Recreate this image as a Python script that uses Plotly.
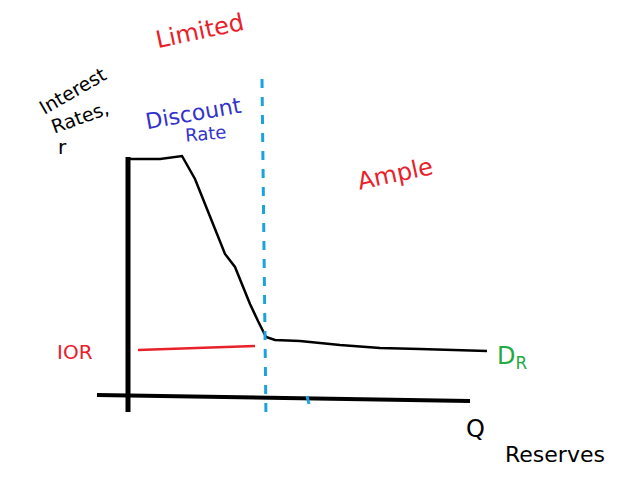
import plotly.graph_objects as go

# Demand curve for reserves (drawing coordinates)
demand_x = [128, 160, 182, 195, 205, 215, 225, 235, 242, 250, 258, 266, 275, 300, 340, 380, 420, 460, 487]
demand_y = [160, 160, 157, 180, 205, 230, 255, 268, 285, 305, 322, 338, 341, 342, 346, 349, 350, 351, 352]
ior_x = [138, 255]
ior_y = [351, 347]
yaxis_x = [128, 128]
yaxis_y = [158, 413]
xaxis_x = [97, 470]
xaxis_y = [396, 402]
divider_x = [262, 266]
divider_y = [80, 420]
tick_x = [307, 309]
tick_y = [397, 405]

fig = go.Figure()
fig.add_trace(go.Scatter(x=yaxis_x, y=yaxis_y, mode="lines", line=dict(color="black", width=5)))
fig.add_trace(go.Scatter(x=xaxis_x, y=xaxis_y, mode="lines", line=dict(color="black", width=4)))
fig.add_trace(go.Scatter(x=demand_x, y=demand_y, mode="lines", line=dict(color="black", width=2.5)))
fig.add_trace(go.Scatter(x=ior_x, y=ior_y, mode="lines", line=dict(color="#e8212a", width=2.5)))
fig.add_trace(go.Scatter(x=divider_x, y=divider_y, mode="lines", line=dict(color="#1aa3e0", width=3, dash="dash")))
fig.add_trace(go.Scatter(x=tick_x, y=tick_y, mode="lines", line=dict(color="#1aa3e0", width=3)))

F = "DejaVu Sans"
def ann(t, x, y, c, s, ang=0):
    fig.add_annotation(x=x, y=y, text=t, showarrow=False, font=dict(family=F, size=s, color=c), textangle=ang)

ann("Limited", 200, 32, "#e8212a", 24, -12)
ann("Interest", 72, 92, "black", 19, -30)
ann("Rates,", 80, 118, "black", 19, -20)
ann("r", 62, 148, "black", 20)
ann("Discount", 193, 114, "#3333cc", 22, -10)
ann("Rate", 205, 134, "#3333cc", 18, -5)
ann("Ample", 395, 175, "#e8212a", 24, -12)
ann("IOR", 75, 353, "#e8212a", 20)
ann("D<sub>R</sub>", 512, 358, "#22aa44", 24)
ann("Q", 475, 430, "black", 24)
ann("Reserves", 555, 455, "black", 22)

fig.update_layout(width=635, height=499, margin=dict(l=0, r=0, t=0, b=0),
                  plot_bgcolor="white", paper_bgcolor="white", showlegend=False,
                  xaxis=dict(range=[8, 643], visible=False),
                  yaxis=dict(range=[508, 9], visible=False))
fig.write_html("out.html")
